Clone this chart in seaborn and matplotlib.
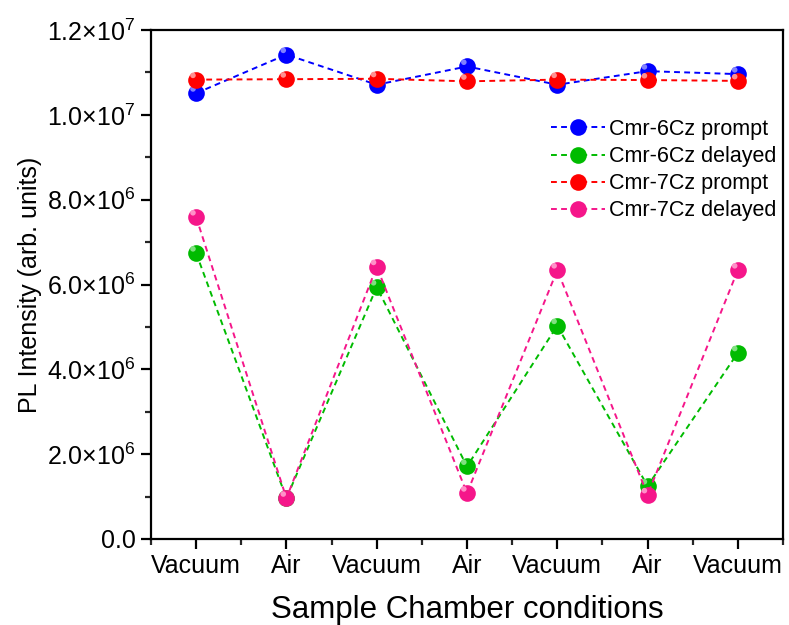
import numpy as np
import pandas as pd
import matplotlib
matplotlib.use("Agg")
import matplotlib.pyplot as plt
from matplotlib.ticker import FixedLocator, MultipleLocator
import seaborn as sns

conditions = ["Vacuum", "Air", "Vacuum", "Air", "Vacuum", "Air", "Vacuum"]
series_names = ["Cmr-6Cz prompt", "Cmr-6Cz delayed", "Cmr-7Cz prompt", "Cmr-7Cz delayed"]
cmr6_prompt = [10.51e6, 11.42e6, 10.71e6, 11.14e6, 10.71e6, 11.03e6, 10.96e6]
cmr6_delayed = [6.74e6, 0.96e6, 5.94e6, 1.71e6, 5.03e6, 1.25e6, 4.39e6]
cmr7_prompt = [10.83e6, 10.84e6, 10.85e6, 10.79e6, 10.83e6, 10.82e6, 10.80e6]
cmr7_delayed = [7.59e6, 0.96e6, 6.42e6, 1.08e6, 6.34e6, 1.04e6, 6.34e6]
ytick_values = [0, 2e6, 4e6, 6e6, 8e6, 1.0e7, 1.2e7]
ytick_labels = ["0.0", r"2.0$\times$10$^{6}$", r"4.0$\times$10$^{6}$", r"6.0$\times$10$^{6}$",
                r"8.0$\times$10$^{6}$", r"1.0$\times$10$^{7}$", r"1.2$\times$10$^{7}$"]
colors = ["#0000FF", "#00BB00", "#FF0000", "#F5168A"]
highlights = ["#8080FF", "#80E080", "#FF9090", "#FF90C8"]

sns.set_theme(style="ticks")
plt.rcParams["font.family"] = ["Liberation Sans", "DejaVu Sans"]
plt.rcParams["mathtext.fontset"] = "custom"
plt.rcParams["mathtext.rm"] = "Liberation Sans"
plt.rcParams["mathtext.it"] = "Liberation Sans:italic"
plt.rcParams["mathtext.bf"] = "Liberation Sans:bold"
plt.rcParams["text.color"] = "black"
plt.rcParams["axes.labelcolor"] = "black"

all_vals = [cmr6_prompt, cmr6_delayed, cmr7_prompt, cmr7_delayed]
rows = []
for name, vals in zip(series_names, all_vals):
    for i, v in enumerate(vals):
        rows.append({"pos": i, "value": v, "series": name})
df = pd.DataFrame(rows)

fig = plt.figure(figsize=(7.89, 6.25), dpi=100)
ax = fig.add_axes([151 / 789, 1 - 539 / 625, (783 - 151) / 789, (539 - 30) / 625])

draw_order = [0, 2, 1, 3]
for k in draw_order:
    name = series_names[k]
    sub = df[df["series"] == name]
    sns.lineplot(data=sub, x="pos", y="value", ax=ax, color=colors[k],
                 linestyle=(0, (3, 2.2)), linewidth=1.4, marker="o", markersize=12,
                 markeredgewidth=0, label=name, zorder=3 + k)
    # highlight to mimic shaded sphere
    ax.scatter(sub["pos"] - 0.035, sub["value"] + 1.0e5, s=16, color=highlights[k],
               edgecolors="none", zorder=3.5 + k)

ax.set_xlim(-0.5, 6.5)
ax.set_ylim(0, 1.2e7)
ax.xaxis.set_major_locator(FixedLocator(range(len(conditions))))
ax.set_xticklabels(conditions)
ax.xaxis.set_minor_locator(FixedLocator(np.arange(-0.5, 6.6, 1.0)))
ax.yaxis.set_major_locator(FixedLocator(ytick_values))
ax.set_yticklabels(ytick_labels)
ax.yaxis.set_minor_locator(MultipleLocator(1e6))

for s in ax.spines.values():
    s.set_linewidth(1.6)
    s.set_color("black")
ax.tick_params(axis="both", which="major", direction="out", length=7, width=1.6,
               labelsize=18, colors="black", pad=4)
ax.tick_params(axis="both", which="minor", direction="out", length=4, width=1.6)
ax.tick_params(top=False, right=False, which="both")

ax.set_xlabel("Sample Chamber conditions", fontsize=22.5, labelpad=12, color="black")
ax.set_ylabel("PL Intensity (arb. units)", fontsize=18, labelpad=4, color="black")

handles, labels = ax.get_legend_handles_labels()
order = [labels.index(n) for n in series_names]
leg = ax.legend([handles[i] for i in order], [labels[i] for i in order],
                loc="upper right", bbox_to_anchor=(1.003, 0.842), frameon=False,
                fontsize=15.5, handlelength=2.5, handletextpad=0.2, labelspacing=0.28,
                borderaxespad=0.0)
for t in leg.get_texts():
    t.set_color("black")

fig.savefig("out.png", dpi=100)
